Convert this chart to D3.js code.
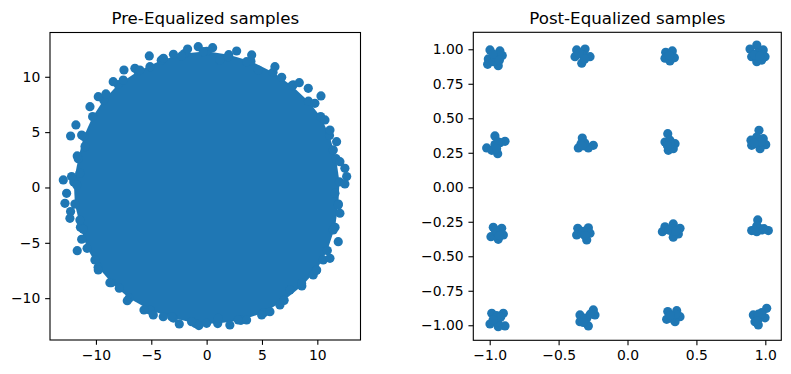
<!DOCTYPE html>
<html><head><meta charset="utf-8">
<script src="https://cdn.jsdelivr.net/npm/d3@7"></script>
<style>
body{margin:0;background:#fff}
svg{display:block}
text{font-family:"DejaVu Sans",sans-serif;fill:#000}
</style>
</head><body>
<svg id="c" width="791" height="374"></svg>
<script>
// ---------- data ----------
const preTitle = "Pre-Equalized samples";
const postTitle = "Post-Equalized samples";
const preXTicks = [-10, -5, 0, 5, 10];
const preYTicks = [-10, -5, 0, 5, 10];
const postXTicks = [-1, -0.5, 0, 0.5, 1];
const postYTicks = [-1, -0.75, -0.5, -0.25, 0, 0.25, 0.5, 0.75, 1];

// boundary of the region where the pre-equalized markers overlap completely
const preCore = [[0,12.3],[2,12.0],[4,11.4],[6,10.4],[7.7,9.2],[9.2,7.8],[10.3,6.4],[11.1,4.7],[11.7,2.6],[12.0,0.5],
  [11.9,-1.5],[11.6,-3.6],[10.9,-5.7],[9.9,-7.5],[8.6,-8.9],[7.0,-10.2],[5.2,-11.3],[3.1,-12.0],[1,-12.3],[-1,-12.3],
  [-3,-11.8],[-5.1,-11.1],[-7.0,-10.0],[-8.6,-8.6],[-9.8,-7.2],[-10.8,-5.5],[-11.4,-3.6],[-11.9,-1.5],[-12.0,0.5],
  [-11.6,2.6],[-11.1,4.6],[-10.3,6.4],[-9.3,7.9],[-8.0,9.3],[-6.2,10.5],[-4.1,11.5],[-2,12.1]];

// isolated pre-equalized samples on the rim
const preEdge = [[-0.76,12.72],[0.54,12.63],[-1.72,12.51],[-0.3,12.27],[-5.18,11.88],[-3.0,12.03],[-3.9,11.67],
  [-2.26,11.88],[2.71,12.33],[4.07,11.97],[1.95,11.82],[1.2,11.52],[3.61,11.36],[-7.47,10.61],[-6.48,10.77],
  [-6.03,10.61],[-7.53,9.71],[-8.44,9.56],[-5.12,10.91],[6.17,10.91],[6.78,9.95],[4.66,10.61],[7.82,9.26],
  [8.37,9.47],[9.18,8.96],[10.33,8.27],[9.78,7.6],[10.69,6.1],[11.14,5.19],[11.74,4.14],[11.44,3.39],
  [12.04,2.33],[12.49,1.73],[12.65,0.98],[12.49,0.32],[-9.79,8.2],[-9.1,8.45],[-10.54,7.3],[-11.81,5.65],
  [-12.29,4.65],[-11.29,4.74],[-11.69,2.85],[-10.99,3.69],[-12.95,0.68],[-12.2,0.98],[-11.45,1.28],[-11.74,0.23],
  [-12.65,-0.53],[-12.8,-1.43],[-12.29,-2.18],[-12.35,-2.79],[-11.45,-2.94],[-11.15,-3.78],[-11.29,-4.68],
  [-11.69,-5.71],[-10.09,-6.55],[-9.79,-7.45],[-8.74,-8.6],[-7.89,-9.1],[-7.17,-10.23],[-5.66,-11.07],
  [-4.82,-11.52],[-3.92,-11.67],[-3.16,-11.67],[-2.47,-12.33],[-1.36,-12.12],[-0.7,-12.48],[0,-12.27],
  [1.05,-11.82],[2.1,-12.42],[2.86,-11.97],[3.61,-11.97],[4.97,-11.52],[5.72,-11.22],[6.62,-10.61],
  [7.52,-9.26],[8.58,-8.66],[9.63,-7.9],[9.94,-7.45],[10.53,-6.55],[11.14,-6.4],[11.89,-4.9],[11.44,-3.84],
  [12.04,-2.33],[11.89,-1.58],[11.59,-0.53]];

// post-equalized samples [I, Q]
const postPoints = [
  [-0.998,0.995],[-0.926,0.988],[-0.909,0.954],[-1.01,0.930],[-0.962,0.935],[-1.015,0.891],[-0.938,0.881],[-0.974,0.910],
  [-0.96,0.94],[-0.94,0.96],[-0.975,0.965],[-0.93,0.92],
  [-0.369,0.995],[-0.308,1.002],[-0.272,0.946],[-0.381,0.946],[-0.332,0.899],[-0.321,0.959],[-0.33,0.96],[-0.35,0.97],[-0.31,0.93],
  [0.277,0.978],[0.325,0.988],[0.34,0.939],[0.272,0.935],[0.308,0.915],[0.301,0.954],[0.305,0.955],
  [0.938,1.031],[0.889,1.002],[0.985,0.995],[0.998,0.946],[0.901,0.946],[0.938,0.910],[0.949,0.971],[0.974,0.922],
  [0.94,0.97],[0.92,0.96],[0.96,0.95],
  [-0.962,0.372],[-1.022,0.285],[-0.889,0.333],[-0.942,0.243],[-0.962,0.309],[-0.925,0.323],[-0.985,0.268],
  [-0.955,0.30],[-0.94,0.33],[-0.95,0.28],
  [-0.328,0.357],[-0.357,0.285],[-0.308,0.299],[-0.248,0.304],[-0.284,0.285],[-0.337,0.316],[-0.31,0.32],[-0.33,0.30],
  [0.292,0.388],[0.272,0.328],[0.345,0.316],[0.296,0.268],[0.332,0.280],[0.308,0.341],[0.31,0.31],[0.29,0.30],
  [0.954,0.413],[0.938,0.364],[0.896,0.341],[0.985,0.352],[0.901,0.304],[1.003,0.309],[0.962,0.280],[0.938,0.316],
  [0.95,0.33],[0.97,0.33],[0.92,0.32],
  [-0.974,-0.290],[-0.913,-0.297],[-0.901,-0.346],[-0.991,-0.358],[-0.938,-0.377],[-0.949,-0.329],[-0.945,-0.33],[-0.96,-0.31],[-0.93,-0.35],
  [-0.361,-0.297],[-0.284,-0.294],[-0.272,-0.333],[-0.369,-0.346],[-0.296,-0.382],[-0.332,-0.333],[-0.32,-0.32],[-0.31,-0.35],
  [0.272,-0.286],[0.332,-0.266],[0.381,-0.297],[0.253,-0.322],[0.369,-0.338],[0.332,-0.362],[0.316,-0.314],
  [0.32,-0.30],[0.30,-0.31],[0.35,-0.32],
  [0.945,-0.237],[0.938,-0.280],[0.901,-0.314],[1.022,-0.314],[0.974,-0.309],[0.938,-0.322],[0.96,-0.30],[0.92,-0.31],[0.99,-0.30],
  [-0.985,-0.913],[-0.901,-0.913],[-0.998,-0.991],[-0.889,-1.005],[-0.949,-0.957],[-0.938,-1.010],
  [-0.95,-0.93],[-0.94,-0.98],[-0.96,-0.95],[-0.92,-0.94],[-0.975,-0.96],
  [-0.345,-0.925],[-0.248,-0.889],[-0.236,-0.925],[-0.345,-0.974],[-0.284,-1.005],[-0.296,-0.949],[-0.31,-0.95],[-0.27,-0.92],[-0.32,-0.98],
  [0.292,-0.901],[0.357,-0.894],[0.381,-0.938],[0.284,-0.957],[0.345,-0.974],[0.321,-0.933],[0.32,-0.95],[0.35,-0.92],[0.31,-0.93],
  [1.010,-0.877],[0.974,-0.909],[0.913,-0.925],[0.925,-0.974],[0.949,-0.998],[0.998,-0.946],[0.954,-0.949],
  [0.95,-0.95],[0.97,-0.92],[0.95,-0.92],[0.94,-0.97]
];

// ---------- drawing ----------
const color = "#1f77b4";
const R = 4.6, TICK = 4.86, PAD = 4.86, TICKFONT = 13.9, TITLEFONT = 16.67;
const svg = d3.select("#c");

function panel(opts) {
  const {x, y, xTicks, yTicks, xFmt, yFmt, title} = opts;
  const g = svg.append("g");
  const [x0, x1] = x.range(), [y1, y0] = y.range();
  const gp = g.append("g");
  opts.draw(gp);
  const ax = g.append("g").attr("transform", `translate(0,${y1})`)
    .call(d3.axisBottom(x).tickValues(xTicks).tickFormat(xFmt).tickSize(TICK).tickPadding(PAD).tickSizeOuter(0));
  const ay = g.append("g").attr("transform", `translate(${x0},0)`)
    .call(d3.axisLeft(y).tickValues(yTicks).tickFormat(yFmt).tickSize(TICK).tickPadding(PAD).tickSizeOuter(0));
  [ax, ay].forEach(a => {
    a.select(".domain").remove();
    a.selectAll("line").attr("stroke", "#000").attr("stroke-width", 1.1);
    a.selectAll("text").style("font-family", '"DejaVu Sans",sans-serif').style("font-size", TICKFONT + "px").attr("fill", "#000");
  });
  g.append("rect").attr("x", x0).attr("y", y0).attr("width", x1 - x0).attr("height", y1 - y0)
    .attr("fill", "none").attr("stroke", "#000").attr("stroke-width", 1.1);
  g.append("text").attr("x", (x0 + x1) / 2).attr("y", y0 - 8.3).attr("text-anchor", "middle")
    .style("font-size", TITLEFONT + "px").text(title);
}

// left panel
const xL = d3.scaleLinear([-14.15, 13.9], [50, 360.5]);
const yL = d3.scaleLinear([-13.78, 14.0], [340, 32.5]);
panel({
  x: xL, y: yL, xTicks: preXTicks, yTicks: preYTicks,
  xFmt: d3.format("d"), yFmt: d3.format("d"), title: preTitle,
  draw: g => {
    g.append("path").datum(preCore)
      .attr("d", d3.line().x(d => xL(d[0])).y(d => yL(d[1])).curve(d3.curveLinearClosed))
      .attr("fill", color);
    g.selectAll("circle.c").data(preCore.concat(preEdge)).join("circle")
      .attr("cx", d => xL(d[0])).attr("cy", d => yL(d[1])).attr("r", R).attr("fill", color);
  }
});

// right panel
const xR = d3.scaleLinear([-1.119, 1.116], [473.3, 781.3]);
const yR = d3.scaleLinear([-1.109, 1.123], [340.3, 32.3]);
panel({
  x: xR, y: yR, xTicks: postXTicks, yTicks: postYTicks,
  xFmt: d3.format(".1f"), yFmt: d3.format(".2f"), title: postTitle,
  draw: g => {
    g.selectAll("circle").data(postPoints).join("circle")
      .attr("cx", d => xR(d[0])).attr("cy", d => yR(d[1])).attr("r", R).attr("fill", color);
  }
});
</script>
</body></html>
